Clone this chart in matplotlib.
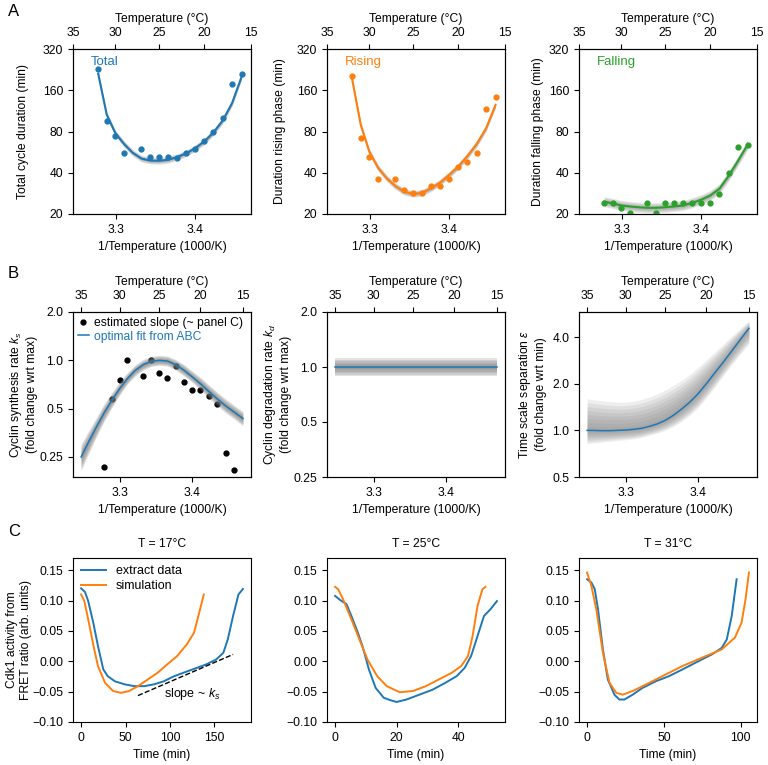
import numpy as np
import matplotlib.pyplot as plt
from matplotlib.ticker import FixedLocator, FixedFormatter, NullLocator

plt.rcParams['font.family'] = ['Liberation Sans', 'DejaVu Sans']
plt.rcParams['font.size'] = 8.7
plt.rcParams['mathtext.fontset'] = 'custom'
plt.rcParams['mathtext.rm'] = 'Liberation Sans'
plt.rcParams['mathtext.it'] = 'Liberation Sans:italic'

BLUE = '#1f77b4'
ORANGE = '#ff7f0e'
GREEN = '#2ca02c'

# --- panel A: cycle durations (min) ---
temps_pts = [32, 31, 30, 29, 27, 26, 25, 24, 23, 22, 21, 20, 19, 18, 17, 16]
total_pts = [227, 96, 74, 56, 60, 52, 52, 52, 51.5, 56, 60, 68, 80, 100, 179, 209]
rising_pts = [203, 72, 52, 36, 36, 30, 28.3, 28.3, 32, 32, 36, 44.4, 48, 56, 116, 144]
falling_pts = [24.1, 24.1, 22.3, 20.2, 24.1, 20.2, 24.1, 24.1, 24.1, 24.1, 24.1, 24.1, 28.1, 40, 61.6, 63.4]

temps_fit_a = [32, 31, 30, 29, 28, 27, 26, 25, 24, 23, 22, 21, 20, 19, 18, 17, 16]
total_fit = [211, 106, 78, 65, 56, 50.8, 49.1, 48.9, 49.7, 52, 55.3, 60.4, 67.6, 78.7, 96.3, 129, 200]
rising_fit = [191, 89.5, 57, 43.6, 36.5, 32, 29.1, 28, 28.6, 30.8, 33.9, 38.6, 44.4, 53.1, 65, 84.6, 125]
falling_fit = [24.6, 23.9, 23.1, 22.7, 22.4, 22.2, 22.2, 22.4, 22.7, 23.1, 24.1, 25.4, 27.3, 30.6, 38, 49, 64]

# --- panel B: fitted parameters vs temperature ---
temps_fit_b = [35, 34, 33, 32, 31, 30, 29, 28, 27, 26, 25, 24, 23, 22, 21, 20, 19, 18, 17, 16, 15]
ks_fit = [0.25, 0.311, 0.384, 0.47, 0.563, 0.666, 0.77, 0.867, 0.94, 0.986, 1.0,
          0.99, 0.94, 0.87, 0.79, 0.715, 0.64, 0.575, 0.52, 0.475, 0.434]
ks_hi = [0.30, 0.365, 0.44, 0.535, 0.63, 0.735, 0.84, 0.94, 1.015, 1.06, 1.075,
         1.065, 1.015, 0.945, 0.86, 0.785, 0.705, 0.635, 0.575, 0.525, 0.48]
ks_lo = [0.205, 0.262, 0.332, 0.415, 0.505, 0.605, 0.71, 0.80, 0.87, 0.915, 0.93,
         0.92, 0.87, 0.80, 0.73, 0.655, 0.58, 0.52, 0.47, 0.43, 0.39]
ks_est = [0.217, 0.577, 0.758, 1.0, 0.795, 1.0, 0.834, 0.78, 0.918, 0.733,
          0.657, 0.657, 0.6, 0.537, 0.265, 0.208]

kd_fit = [1.0] * 21
kd_hi = [1.12] * 21
kd_lo = [0.89] * 21

eps_fit = [1.0, 0.998, 0.995, 0.995, 1.0, 1.005, 1.015, 1.03, 1.06, 1.1, 1.16,
           1.25, 1.37, 1.52, 1.72, 2.0, 2.35, 2.75, 3.25, 3.85, 4.55]
eps_hi = [1.6, 1.57, 1.55, 1.53, 1.52, 1.52, 1.54, 1.58, 1.64, 1.72, 1.82,
          1.95, 2.1, 2.3, 2.55, 2.85, 3.2, 3.6, 4.05, 4.55, 5.1]
eps_lo = [0.82, 0.83, 0.84, 0.85, 0.86, 0.87, 0.88, 0.9, 0.93, 0.96, 1.0,
          1.06, 1.14, 1.25, 1.4, 1.62, 1.9, 2.25, 2.65, 3.1, 3.6]

# --- panel C: Cdk1 activity time courses ---
t17_data = [0, 4.4, 8, 13.7, 19, 25, 30, 38, 49, 60, 71, 82, 93, 104, 115, 130, 141, 152, 160, 165, 171, 177, 182]
v17_data = [0.120, 0.114, 0.099, 0.0635, 0.025, -0.0135, -0.0246, -0.033, -0.038, -0.041, -0.041, -0.038,
            -0.033, -0.025, -0.019, -0.011, -0.005, 0.003, 0.014, 0.036, 0.075, 0.110, 0.119]
t17_sim = [0, 3.7, 8, 14, 19, 27, 36, 45, 54, 64, 75, 86, 97, 108, 119, 127, 132, 138]
v17_sim = [0.110, 0.099, 0.069, 0.025, -0.008, -0.0356, -0.049, -0.052, -0.049, -0.041, -0.030,
           -0.019, -0.005, 0.0085, 0.028, 0.047, 0.075, 0.110]
slope_t = [64, 171]
slope_v = [-0.0565, 0.0113]

t25_data = [0, 1.6, 3.7, 5.3, 7.4, 8.9, 11, 13.2, 15.8, 17.9, 20, 23.2, 27.4, 31.6, 35.8, 39.5,
            42.1, 44.2, 46.3, 48.4, 50.5, 52.6]
v25_data = [0.1076, 0.101, 0.094, 0.0746, 0.047, 0.025, -0.0136, -0.044, -0.060, -0.064, -0.067,
            -0.063, -0.055, -0.047, -0.0356, -0.0246, -0.011, 0.0085, 0.0415, 0.0746, 0.0856, 0.099]
t25_sim = [0, 1, 2.6, 5.3, 7.9, 10.5, 13.7, 16.8, 21, 25.3, 29.5, 33.7, 37.9, 41, 43.2, 44.7, 46.3, 47.9, 48.9]
v25_sim = [0.1225, 0.1186, 0.102, 0.069, 0.036, 0.003, -0.0246, -0.041, -0.051, -0.049, -0.041,
           -0.030, -0.019, -0.008, 0.0085, 0.0415, 0.091, 0.1186, 0.1225]

t31_data = [0, 2.8, 5, 7.1, 10.3, 13.5, 17.8, 21, 24.3, 29.7, 36, 44.7, 53.3, 62, 68.4, 74.8,
            81.3, 87.7, 91, 94.2, 97.4]
v31_data = [0.135, 0.1296, 0.1186, 0.0856, 0.0195, -0.030, -0.055, -0.063, -0.063, -0.055, -0.044,
            -0.033, -0.0246, -0.0136, -0.0053, 0.003, 0.0113, 0.022, 0.036, 0.0746, 0.135]
t31_sim = [0, 2.8, 6, 10.3, 14.6, 19, 23.2, 29.7, 38.3, 49, 62, 74.8, 87.7, 96.3, 100.6, 103.2, 105.4]
v31_sim = [0.146, 0.124, 0.0856, 0.014, -0.0356, -0.052, -0.055, -0.049, -0.0383, -0.0246, -0.008,
           0.0058, 0.0195, 0.039, 0.0635, 0.102, 0.146]

top_ticks = [35, 30, 25, 20, 15]


def inv_temp(t):
    return 1000.0 / (np.asarray(t, dtype=float) + 273.15)


fig = plt.figure(figsize=(7.68, 7.65), dpi=100)


def place(left, top, w, h):
    return fig.add_axes([left / 768, 1 - (top + h) / 765, w / 768, h / 765])


def band(ax, x, fit, hi, lo, alpha=0.12, n=6, z=2):
    fit, hi, lo = np.asarray(fit), np.asarray(hi), np.asarray(lo)
    for f in np.linspace(1.0, 1.0 / n, n):
        ax.fill_between(x, fit * (hi / fit) ** f, fit * (lo / fit) ** f,
                        color='gray', alpha=alpha, lw=0, zorder=z)


def log_axis(ax, ticks, labels, lim):
    ax.set_yscale('log', base=2)
    ax.set_ylim(*lim)
    ax.yaxis.set_major_locator(FixedLocator(ticks))
    ax.yaxis.set_major_formatter(FixedFormatter(labels))
    ax.yaxis.set_minor_locator(NullLocator())


def temp_axes(ax, xlim):
    ax.set_xlim(*xlim)
    ax.set_xticks([3.3, 3.4])
    ax.set_xticklabels(['3.3', '3.4'])
    ax.set_xlabel('1/Temperature (1000/K)')
    top = ax.twiny()
    top.set_xlim(*xlim)
    top.set_xticks(inv_temp(top_ticks))
    top.set_xticklabels([str(t) for t in top_ticks])
    top.set_xlabel('Temperature (°C)')


cols = [73, 327, 579]
W = 178

# ---- Row A ----
xlim_a = (float(inv_temp(35)), float(inv_temp(15)))
a_specs = [
    (total_pts, total_fit, BLUE, 'Total', 'Total cycle duration (min)', 10),
    (rising_pts, rising_fit, ORANGE, 'Rising', 'Duration rising phase (min)', 7.5),
    (falling_pts, falling_fit, GREEN, 'Falling', 'Duration falling phase (min)', 3.5),
]
for i, (pts, fit, col, name, ylab, pad) in enumerate(a_specs):
    ax = place(cols[i], 49, W, 165)
    xf = inv_temp(temps_fit_a)
    fit = np.asarray(fit)
    spread = 1.09 if name == 'Falling' else 1.06
    band(ax, xf, fit, fit * spread, fit / spread, alpha=0.18, n=5)
    ax.plot(xf, fit, color=col, lw=1.5, zorder=3)
    ax.plot(inv_temp(temps_pts), pts, 'o', color=col, ms=3.5, zorder=4)
    ax.text(0.10, 0.92, name, color=col, transform=ax.transAxes, va='center', ha='left', fontsize=9.5)
    log_axis(ax, [20, 40, 80, 160, 320], ['20', '40', '80', '160', '320'], (20, 320))
    ax.set_ylabel(ylab, labelpad=pad)
    temp_axes(ax, xlim_a)

# ---- Row B ----
xb = inv_temp(temps_fit_b)
span = xb[-1] - xb[0]
xlim_b = (xb[0] - 0.05 * span, xb[-1] + 0.05 * span)

ax = place(cols[0], 312, W, 165)
ax.plot(inv_temp(temps_pts), ks_est, 'o', color='black', ms=3.5, zorder=1,
        label='estimated slope (~ panel C)')
band(ax, xb, ks_fit, ks_hi, ks_lo, alpha=0.22, n=6)
ax.plot(xb, ks_fit, color=BLUE, lw=1.1, zorder=3, label='optimal fit from ABC')
log_axis(ax, [0.25, 0.5, 1.0, 2.0], ['0.25', '0.5', '1.0', '2.0'], (0.1875, 2.0))
ax.set_ylabel('Cyclin synthesis rate $k_s$\n(fold change wrt max)', labelpad=1)
leg = ax.legend(loc='upper left', frameon=False, handlelength=0.9, handletextpad=0.4,
                borderaxespad=0.2, borderpad=0.2, labelspacing=0.15, fontsize=8.7)
leg.get_texts()[1].set_color(BLUE)
temp_axes(ax, xlim_b)

ax = place(cols[1], 312, W, 165)
band(ax, xb, kd_fit, kd_hi, kd_lo, alpha=0.22, n=6)
ax.plot(xb, kd_fit, color=BLUE, lw=1.1, zorder=3)
log_axis(ax, [0.25, 0.5, 1.0, 2.0], ['0.25', '0.5', '1.0', '2.0'], (0.25, 2.0))
ax.set_ylabel('Cyclin degradation rate $k_d$\n(fold change wrt max)', labelpad=1)
temp_axes(ax, xlim_b)

ax = place(cols[2], 312, W, 165)
band(ax, xb, eps_fit, eps_hi, eps_lo, alpha=0.13, n=8)
ax.plot(xb, eps_fit, color=BLUE, lw=1.1, zorder=3)
log_axis(ax, [0.5, 1.0, 2.0, 4.0], ['0.5', '1.0', '2.0', '4.0'], (0.5, 5.8))
ax.set_ylabel('Time scale separation $\\epsilon$\n(fold change wrt min)')
temp_axes(ax, xlim_b)

# ---- Row C ----
c_specs = [
    (t17_data, v17_data, t17_sim, v17_sim, 'T = 17°C', [0, 50, 100, 150]),
    (t25_data, v25_data, t25_sim, v25_sim, 'T = 25°C', [0, 20, 40]),
    (t31_data, v31_data, t31_sim, v31_sim, 'T = 31°C', [0, 50, 100]),
]
for i, (td, vd, ts, vs, title, xt) in enumerate(c_specs):
    ax = place(cols[i], 558, W, 164)
    ax.plot(td, vd, color=BLUE, lw=1.4, label='extract data')
    ax.plot(ts, vs, color=ORANGE, lw=1.4, label='simulation')
    ax.set_ylim(-0.10, 0.17)
    ax.set_yticks([-0.10, -0.05, 0.00, 0.05, 0.10, 0.15])
    ax.set_yticklabels(['\u22120.10', '\u22120.05', '0.00', '0.05', '0.10', '0.15'])
    ax.set_xticks(xt)
    ax.set_xlabel('Time (min)')
    ax.set_title(title, fontsize=8.7, pad=8)
    if i == 0:
        ax.plot(slope_t, slope_v, 'k--', lw=1.0)
        ax.text(93, -0.054, 'slope ~ $k_s$', va='center', ha='left', fontsize=9)
        ax.set_ylabel('Cdk1 activity from\nFRET ratio (arb. units)', labelpad=0.5)
        ax.legend(loc='upper left', frameon=False, fontsize=9, handlelength=2.0,
                  borderaxespad=0.2, labelspacing=0.2)

for letter, y in [('A', 12), ('B', 273), ('C', 531)]:
    fig.text(8 / 768, 1 - y / 765, letter, fontsize=12, va='center', ha='left')

fig.savefig('out.png', dpi=100)
